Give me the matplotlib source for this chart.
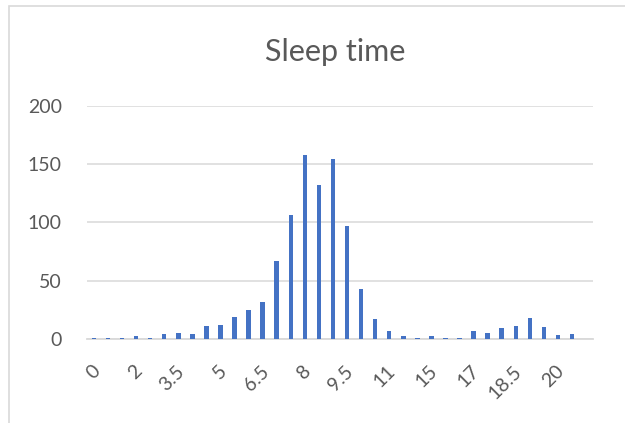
import matplotlib
matplotlib.use('Agg')
import matplotlib.pyplot as plt
import matplotlib.transforms as mtransforms
from matplotlib.patches import Rectangle

# часы сна (категории) и количество ответов
hours = ['0', '0.5', '1', '2', '2.5', '3', '3.5', '4', '4.5', '5', '5.5', '6',
         '6.5', '7', '7.5', '8', '8.5', '9', '9.5', '10', '10.5', '11', '12', '13',
         '15', '16', '16.5', '17', '17.5', '18', '18.5', '19', '19.5', '20', '21', '22']
counts = [1, 1, 1, 2, 1, 4, 5, 4, 11, 12, 19, 25, 32, 67, 106, 158, 132, 154, 97, 43,
          17, 7, 2, 1, 2, 1, 1, 7, 5, 9, 11, 18, 10, 3, 4, 0]
y_ticks = [0, 50, 100, 150, 200]

plt.rcParams['font.family'] = ['Lato', 'DejaVu Sans']

fig = plt.figure(figsize=(6.25, 4.23), dpi=100)
ax = fig.add_axes([0.139, 0.199, 0.81, 0.551])

x = list(range(len(hours)))
ax.bar(x, counts, width=0.32, color='#4472C4', zorder=3)

ax.set_xlim(-0.5, len(hours) - 0.5)
ax.set_ylim(0, 200)
ax.set_yticks(y_ticks)
ax.set_yticklabels([str(v) for v in y_ticks], fontsize=14, color='#595959')
ax.yaxis.grid(True, color='#D9D9D9', linewidth=1.1)
ax.set_axisbelow(True)

ax.set_xticks(x[::3])
ax.set_xticklabels(hours[::3], rotation=45, ha='right', va='top',
                   rotation_mode='anchor', fontsize=14, color='#595959')
ax.tick_params(axis='x', length=0, pad=17)
ax.tick_params(axis='y', length=0, pad=18)
# небольшой сдвиг подписей вправо
shift = mtransforms.ScaledTranslation(-2 / 72, 0, fig.dpi_scale_trans)
for lbl in ax.get_xticklabels():
    lbl.set_transform(lbl.get_transform() + shift)

for side in ['top', 'right', 'left']:
    ax.spines[side].set_visible(False)
ax.spines['bottom'].set_color('#D9D9D9')
ax.spines['bottom'].set_linewidth(1.3)
ax.spines['bottom'].set_zorder(2)

fig.text(0.536, 0.877, 'Sleep time', ha='center', va='center',
         fontsize=22, color='#595959')

# рамка области диаграммы
frame = Rectangle((9 / 625, -0.2), 1.2, 1.2 - 6 / 423, transform=fig.transFigure,
                  fill=False, edgecolor='#D9D9D9', linewidth=1.2, clip_on=False)
fig.patches.append(frame)

fig.savefig('out.png', dpi=100)
